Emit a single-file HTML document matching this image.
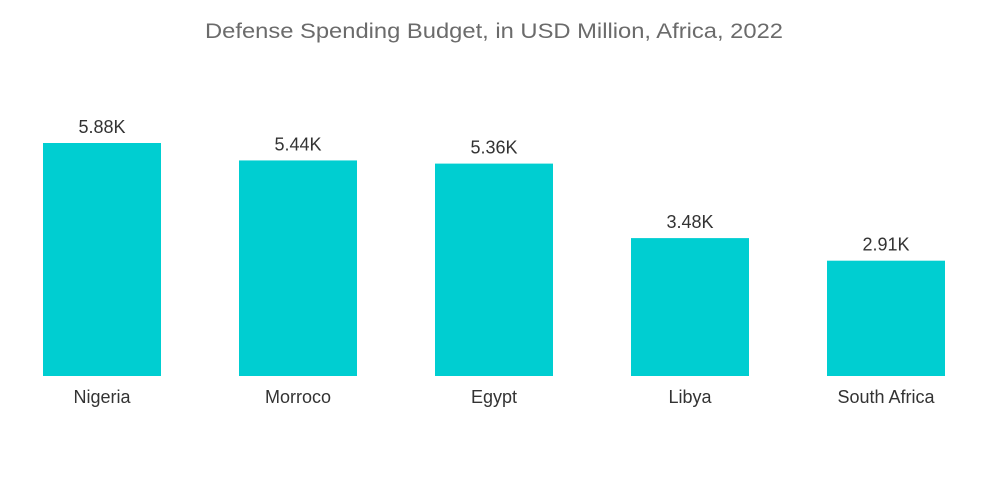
<!DOCTYPE html>
<html><head><meta charset="utf-8"><style>
body{margin:0;background:#fff;}
svg{display:block;font-family:"Liberation Sans",sans-serif;}
</style></head><body>
<svg id="chart" width="1000" height="504">
<text x="494" y="38" text-anchor="middle" font-size="21" textLength="578" lengthAdjust="spacingAndGlyphs" fill="#6b6b6b">Defense Spending Budget, in USD Million, Africa, 2022</text>
<g id="bars"></g>
</svg>
<script>
const categories = ["Nigeria","Morroco","Egypt","Libya","South Africa"];
const values = [5880,5440,5360,3480,2910];
const valueLabels = ["5.88K","5.44K","5.36K","3.48K","2.91K"];
const baseY = 376, pxPerUnit = 233/5880, x0 = 43, pitch = 196, bw = 118;
function yScale(v){return baseY - v*pxPerUnit;}
function xScale(i){return x0 + i*pitch;}
const g = document.getElementById('bars');
const ns = "http://www.w3.org/2000/svg";
categories.forEach((c,i)=>{
  const x = xScale(i), y = yScale(values[i]);
  const r = document.createElementNS(ns,'rect');
  r.setAttribute('x',x); r.setAttribute('y',y); r.setAttribute('width',bw); r.setAttribute('height',baseY-y);
  r.setAttribute('fill','#00ced1');
  
  
  g.appendChild(r);
  const t = document.createElementNS(ns,'text');
  t.setAttribute('x',x+bw/2); t.setAttribute('y',y-10); t.setAttribute('text-anchor','middle');
  t.setAttribute('font-size','18'); t.setAttribute('fill','#333');
  t.textContent = valueLabels[i];
  
  
  g.appendChild(t);
  const l = document.createElementNS(ns,'text');
  l.setAttribute('x',x+bw/2); l.setAttribute('y',403); l.setAttribute('text-anchor','middle');
  l.setAttribute('font-size','18'); l.setAttribute('fill','#333');
  l.textContent = c;
  
  
  g.appendChild(l);
});
</script>
</body></html>
